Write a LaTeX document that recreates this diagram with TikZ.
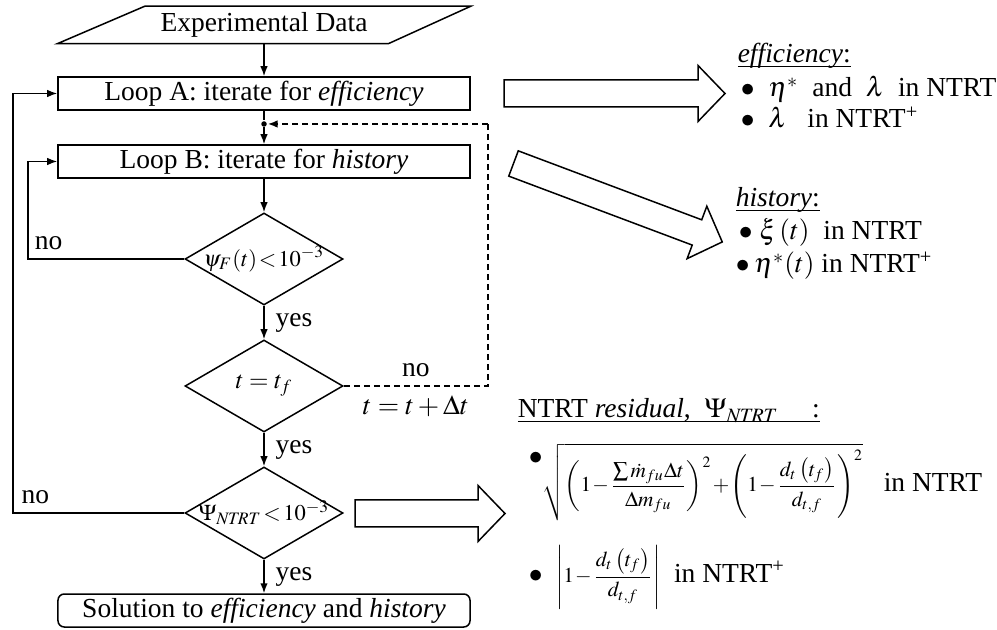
\documentclass[tikz,border=0pt]{standalone}
\usepackage{amsmath}
\usepackage{mathptmx}
\usepackage[no-math]{fontspec}
\setmainfont{Liberation Serif}
\usepackage{tikz}
\usetikzlibrary{shapes.geometric,arrows.meta}

% hollow block arrow: start point, angle, length
\newcommand{\fatarrow}[3]{%
  \draw[shift={#1},rotate=#2] (0,-13.5) -- ({#3-27},-13.5) -- ({#3-27},-28) -- (#3,0)
    -- ({#3-27},28) -- ({#3-27},13.5) -- (0,13.5) -- cycle;}
% underline that runs through the descenders
\newcommand{\headline}[1]{\underline{\smash{#1}}}

\begin{document}
\begin{tikzpicture}[x=0.4pt,y=-0.4pt,
    every node/.style={font=\fontsize{11}{13}\selectfont},
    line width=0.6pt, >={Latex[length=4pt,width=3pt]},
    box/.style={draw, minimum width=164.8pt, minimum height=13.2pt, inner sep=0pt},
    test/.style={draw, diamond, minimum width=63.2pt, minimum height=36.8pt, inner sep=0pt},
    testlabel/.style={font=\fontsize{9}{11}\selectfont},
    txt/.style={anchor=base west, inner sep=0pt},
    loopback/.style={dash pattern=on 2.5pt off 1.5pt, line width=0.8pt}]
\useasboundingbox (0,0) rectangle (997,630);

					% input
					\node[minimum width=164.8pt, minimum height=14.4pt, inner sep=0pt] (data) at (264,25) {Experimental Data};
					\draw (data.south west) -- ([xshift=-33pt]data.south east) -- (data.north east)
					  -- ([xshift=35pt]data.north west) -- cycle;
					
					% the two loops
					\node[box] (loopA) at (264,93.5) {Loop A: iterate for \textit{efficiency}};
					\node[circle, fill, inner sep=0pt, minimum size=2.2pt] (join) at (264,124) {};
					\node[box] (loopB) at (264,161.5) {Loop B: iterate for \textit{history}};
					
					% checks
					\node[test, label={[testlabel]center:$\thickmuskip=1.5mu \psi_F(t)<10^{-3}$}] (psi) at (264,259) {};
					\node[test, label={[testlabel, font=\fontsize{10}{12}\selectfont]center:$t=t_f$}] (tend) at (264,386) {};
					\node[test, label={[testlabel]center:$\thickmuskip=2mu \Psi_{\mathit{NTRT}}<10^{-3}$}] (resid) at (264,513) {};
					
					% result
					\node[box, rounded corners=2.5pt] (sol) at (264,610.5) {Solution to \textit{efficiency} and \textit{history}};
					
					% connectors
					\draw[->] (data) -- (loopA);
					\draw (loopA) -- (join);
					\draw[->] (join) -- (loopB);
					\draw[->] (loopB) -- (psi);
					\draw[->] (psi) -- node[right, xshift=1pt] {yes} (tend);
					\draw[->] (tend) -- node[right, xshift=1pt] {yes} (resid);
					\draw[->] (resid) -- node[right, xshift=1pt] {yes} (sol);
					\draw[->] (psi.west) -- node[pos=0.87, above] {no} ++(-156,0) |- (loopB.west);
					\draw[->] (resid.west) -- node[pos=0.87, above] {no} ++(-171,0) |- (loopA.west);
					
					% time step back to loop B
					\coordinate (corner) at (488,124);
					\draw[loopback] (tend.east) -| node[pos=0.25, above] {no}
					  node[pos=0.25, below] {$t=t+\Delta t$} (corner);
					\draw[loopback, ->] (corner) -- (join);
					
					% block arrows
					\fatarrow{(504,93.5)}{0}{221}
					\fatarrow{(513.5,163.5)}{-20.6}{223}
					\fatarrow{(355,513.5)}{0}{150}
					
					% efficiency
					\node[txt] (effhead) at (737,63) {\headline{\textit{efficiency}:}};
					\node[txt] (eff1) at (740,97) {$\bullet$\ \ $\eta^{*}$\ \ and\ \ $\lambda$\ \ in NTRT};
					\node[txt] (eff2) at (740,128) {$\bullet$\ \ $\lambda$\ \ \ in NTRT\textsuperscript{+}};
					
					% history
					\node[txt] (histhead) at (735,207) {\headline{\textit{history}:}};
					\node[txt] (hist1) at (738,240) {$\bullet$\ $\xi\left(t\right)$\ \ in NTRT};
					\node[txt] (hist2) at (735,273) {$\bullet$\,$\eta^{*}\!\left(t\right)$\ in NTRT\textsuperscript{+}};
					
					% residual
					\node[txt] (reshead) at (517,418) {\headline{NTRT \textit{residual}, \ $\Psi_{\mathit{NTRT}}$\quad\ :}};
					\node[anchor=west, inner sep=0pt] (res1) at (528,482)
					  {\raisebox{11pt}{$\bullet$}{\fontsize{8.5}{10}\selectfont$\medmuskip=1mu\displaystyle
					  \sqrt{\left(1-\frac{\sum\dot{m}_{fu}\Delta t}{\Delta m_{fu}}\right)^{2}
					  +\left(1-\frac{d_t\left(t_f\right)}{d_{t,f}}\right)^{2}}$}\ \ \ in NTRT};
					\node[anchor=west, inner sep=0pt] (res2) at (528,577)
					  {$\bullet$\ \ {\fontsize{8.5}{10}\selectfont$\medmuskip=1mu\displaystyle
					  \left|1-\frac{d_t\left(t_f\right)}{d_{t,f}}\right|$}\ \ in NTRT\textsuperscript{+}};
\end{tikzpicture}
\end{document}
